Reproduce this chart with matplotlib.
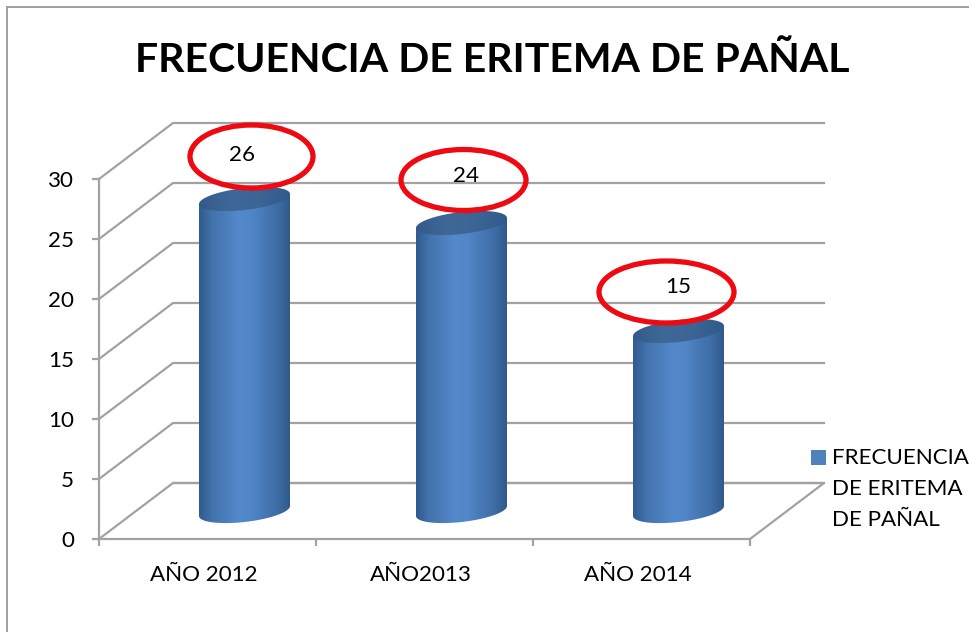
import numpy as np
import matplotlib
matplotlib.use("Agg")
import matplotlib.pyplot as plt
from matplotlib.lines import Line2D
from matplotlib.patches import Ellipse, Patch, Polygon

categories = ["AÑO 2012", "AÑO2013", "AÑO 2014"]
values = [26, 24, 15]
series_name = "FRECUENCIA\nDE ERITEMA\nDE PAÑAL"
y_ticks = [0, 5, 10, 15, 20, 25, 30]
title = "FRECUENCIA DE ERITEMA DE PAÑAL"

W, H = 969, 632
GRID = "#a2a2a2"
FS = 16.1
plt.rcParams["font.family"] = ["Lato", "DejaVu Sans"]
fig = plt.figure(figsize=(W / 100, H / 100), dpi=100)

# Front plane of the 3D box, in pixels
L, R, B, T = 99, 750, 539, 179
ax = fig.add_axes([L / W, 1 - B / H, (R - L) / W, (B - T) / H])
ax.set_xlim(-0.5, 2.5)
ax.set_ylim(0, 30)
PX = (R - L) / 3            # pixels per category
PY = (B - T) / 30           # pixels per unit
DX, DY = 74 / PX, 56 / PY   # depth of the box

for s in ["top", "right"]:
    ax.spines[s].set_visible(False)
for s in ["left", "bottom"]:
    ax.spines[s].set_color(GRID)
    ax.spines[s].set_linewidth(1.6)

ax.set_yticks(y_ticks)
ax.set_xticks([-0.5, 0.5, 1.5, 2.5], minor=False)
ax.set_xticklabels([])
ax.tick_params(axis="both", color=GRID, width=1.6, length=5, labelsize=FS,
               labelcolor="black")
ax.tick_params(axis="y", pad=13)
for i, c in enumerate(categories):
    ax.annotate(c, (i, 0), xytext=(-2.5, -26.2), textcoords="offset points",
                ha="center", va="center", fontsize=FS, annotation_clip=False)

# Walls and floor
for v in y_ticks:
    ax.plot([-0.5, -0.5 + DX, 2.5 + DX], [v, v + DY, v + DY], color=GRID, lw=1.6,
            clip_on=False, zorder=1, solid_joinstyle="miter")
ax.plot([2.5, 2.5 + DX, -0.5 + DX], [0, DY, DY], color=GRID, lw=1.6, clip_on=False, zorder=1)

# Cylinders
A = 45.5 / PX
BB = 11 / PY
SL = 5 / PY
t = np.linspace(0, 2 * np.pi, 181)
cmap = matplotlib.colors.LinearSegmentedColormap.from_list(
    "cyl", ["#2f5b8e", "#4373ac", "#4b7dbb", "#5488cc", "#5186c8", "#4779b6", "#3f6ea6", "#2f5a8b"])
grad = np.linspace(0, 1, 256).reshape(1, -1)
top_cmap = matplotlib.colors.LinearSegmentedColormap.from_list(
    "top", ["#33598a", "#3f6899", "#3c6595", "#2f5a8a"])

for i, v in enumerate(values):
    cx = i + DX / 2
    base = DY / 2
    top = v + DY / 2
    front = t[(t >= np.pi)]                # lower half of the ellipse
    xs = np.cos(front)
    lower = np.column_stack([cx + A * xs, base + BB * np.sin(front) + SL * xs])
    upper = np.column_stack([cx + A * xs[::-1], top + SL * xs[::-1]])
    body = Polygon(np.vstack([lower, upper]), closed=True, transform=ax.transData,
                   fc="none", ec="none")
    ax.add_patch(body)
    im = ax.imshow(grad, cmap=cmap, aspect="auto", zorder=3,
                   extent=[cx - A, cx + A, 0, top + BB * 2])
    im.set_clip_path(body)

    cap = Polygon(np.column_stack([cx + A * np.cos(t), top + BB * np.sin(t) + SL * np.cos(t)]),
                  closed=True, transform=ax.transData, fc="none", ec="none")
    ax.add_patch(cap)
    imc = ax.imshow(grad, cmap=top_cmap, aspect="auto", zorder=4,
                    extent=[cx - A, cx + A, top - 2 * BB, top + 2 * BB])
    imc.set_clip_path(cap)
ax.set_xlim(-0.5, 2.5)
ax.set_ylim(0, 30)

# Hand-drawn rings and value labels, offset in pixels from the top of each cylinder
label_offsets = [(-3, 44), (5, 47), (0, 44)]
ring_offsets = [(7, 42.5), (2, 43), (-12, 39)]
ring_sizes = [(123, 63), (125, 61), (135, 62)]
for i, v in enumerate(values):
    cx = i + DX / 2
    top = v + DY / 2
    rx, ry = ring_offsets[i]
    rw, rh = ring_sizes[i]
    ax.add_patch(Ellipse((cx + rx / PX, top + ry / PY), rw / PX, rh / PY, fc="none",
                         ec="#ee0a12", lw=3.8, clip_on=False, zorder=6))
    lx, ly = label_offsets[i]
    ax.text(cx + lx / PX, top + ly / PY, str(v), ha="center", va="center",
            fontsize=FS, color="black", zorder=7, clip_on=False)

# Title
fig.text(492 / W, 1 - 61 / H, title, ha="center", va="center", fontsize=29.5,
         fontweight="bold", color="black")

# Legend
leg = ax.legend(handles=[Patch(fc="#4f81bd", ec="none")], labels=[series_name],
                loc="upper left", bbox_to_anchor=(811 / W, 1 - 448.5 / H),
                bbox_transform=fig.transFigure, frameon=False, fontsize=FS,
                handlelength=0.68, handleheight=0.68, handletextpad=0.27,
                borderpad=0, borderaxespad=0, labelspacing=0)
leg.get_texts()[0].set_linespacing(1.68)
leg.get_patches()[0].set_y(23)

# Chart frame
for xs, ys in [([7, 7], [0, H - 7]), ([7, W], [H - 7, H - 7])]:
    fig.add_artist(Line2D(np.array(xs) / W, np.array(ys) / H, color="#a0a0a0", lw=1.4))

fig.savefig("out.png", dpi=100, facecolor="white")
